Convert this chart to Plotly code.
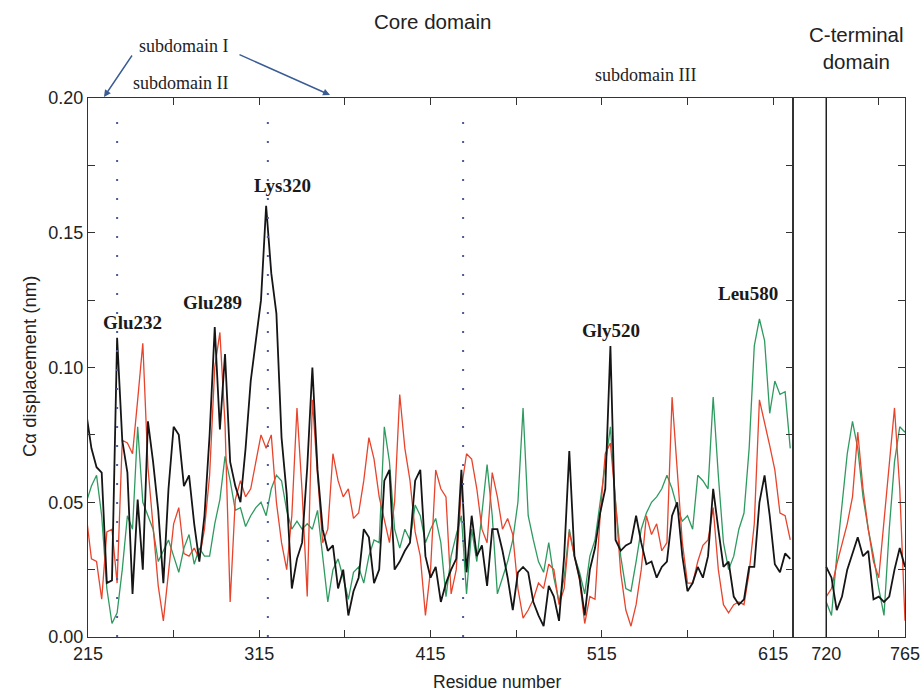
import plotly.graph_objects as go

# ---------------- data ----------------
residues_core = list(range(214, 626, 3))      # core domain residues (left panel)
residues_cterm = list(range(720, 766, 3))     # C-terminal residues (right panel)

black_core = [
    0.083, 0.070, 0.063, 0.061, 0.020, 0.021, 0.111, 0.073, 0.061, 0.016,
    0.051, 0.025, 0.080, 0.065, 0.047, 0.020, 0.055, 0.078, 0.075, 0.056,
    0.060, 0.042, 0.028, 0.045, 0.075, 0.115, 0.077, 0.105, 0.065, 0.056,
    0.050, 0.070, 0.095, 0.110, 0.125, 0.160, 0.135, 0.120, 0.074, 0.053,
    0.018, 0.029, 0.035, 0.063, 0.100, 0.062, 0.040, 0.032, 0.034, 0.018,
    0.025, 0.008, 0.017, 0.022, 0.040, 0.037, 0.020, 0.025, 0.058, 0.062,
    0.025, 0.028, 0.032, 0.035, 0.058, 0.062, 0.030, 0.022, 0.026, 0.013,
    0.020, 0.025, 0.029, 0.062, 0.024, 0.045, 0.030, 0.034, 0.019, 0.040,
    0.040, 0.032, 0.022, 0.010, 0.024, 0.026, 0.024, 0.013, 0.008, 0.004,
    0.019, 0.015, 0.006, 0.030, 0.069, 0.030, 0.022, 0.008, 0.025, 0.033,
    0.046, 0.055, 0.108, 0.036, 0.032, 0.034, 0.035, 0.045, 0.035, 0.027,
    0.028, 0.022, 0.026, 0.028, 0.045, 0.050, 0.030, 0.017, 0.020, 0.026,
    0.022, 0.030, 0.055, 0.040, 0.026, 0.028, 0.015, 0.012, 0.014, 0.026,
    0.026, 0.050, 0.060, 0.045, 0.027, 0.024, 0.031, 0.029,
]
red_core = [
    0.045, 0.029, 0.028, 0.014, 0.039, 0.040, 0.020, 0.073, 0.072, 0.068,
    0.088, 0.109, 0.063, 0.042, 0.019, 0.006, 0.025, 0.042, 0.048, 0.031,
    0.030, 0.033, 0.029, 0.040, 0.060, 0.100, 0.113, 0.079, 0.013, 0.051,
    0.058, 0.052, 0.055, 0.065, 0.075, 0.070, 0.075, 0.050, 0.035, 0.025,
    0.045, 0.085, 0.054, 0.015, 0.088, 0.060, 0.035, 0.040, 0.068, 0.058,
    0.052, 0.055, 0.044, 0.046, 0.058, 0.074, 0.066, 0.052, 0.043, 0.035,
    0.050, 0.090, 0.070, 0.058, 0.039, 0.030, 0.008, 0.025, 0.062, 0.055,
    0.052, 0.016, 0.025, 0.055, 0.068, 0.066, 0.055, 0.040, 0.035, 0.061,
    0.052, 0.040, 0.044, 0.038, 0.018, 0.007, 0.010, 0.014, 0.020, 0.018,
    0.027, 0.025, 0.012, 0.018, 0.039, 0.030, 0.021, 0.005, 0.015, 0.014,
    0.045, 0.068, 0.072, 0.050, 0.024, 0.010, 0.004, 0.012, 0.025, 0.045,
    0.038, 0.042, 0.032, 0.035, 0.089, 0.062, 0.035, 0.020, 0.020, 0.028,
    0.034, 0.036, 0.048, 0.025, 0.012, 0.009, 0.012, 0.013, 0.012, 0.024,
    0.042, 0.088, 0.080, 0.071, 0.062, 0.046, 0.045, 0.036,
]
green_core = [
    0.050, 0.056, 0.060, 0.045, 0.018, 0.005, 0.009, 0.025, 0.045, 0.040,
    0.078, 0.050, 0.045, 0.040, 0.028, 0.032, 0.036, 0.030, 0.024, 0.033,
    0.038, 0.027, 0.033, 0.030, 0.030, 0.042, 0.051, 0.067, 0.058, 0.047,
    0.048, 0.041, 0.045, 0.048, 0.050, 0.045, 0.055, 0.060, 0.058, 0.047,
    0.040, 0.043, 0.040, 0.042, 0.040, 0.047, 0.030, 0.013, 0.025, 0.029,
    0.022, 0.014, 0.024, 0.026, 0.020, 0.030, 0.036, 0.035, 0.078, 0.065,
    0.040, 0.033, 0.040, 0.036, 0.049, 0.045, 0.035, 0.040, 0.044, 0.035,
    0.015, 0.030, 0.038, 0.045, 0.016, 0.040, 0.028, 0.045, 0.064, 0.045,
    0.016, 0.022, 0.028, 0.036, 0.050, 0.085, 0.045, 0.036, 0.028, 0.024,
    0.035, 0.022, 0.013, 0.022, 0.040, 0.030, 0.024, 0.016, 0.030, 0.036,
    0.050, 0.062, 0.078, 0.050, 0.030, 0.018, 0.017, 0.028, 0.040, 0.046,
    0.050, 0.052, 0.055, 0.060, 0.055, 0.048, 0.043, 0.045, 0.040, 0.060,
    0.058, 0.055, 0.089, 0.060, 0.035, 0.025, 0.030, 0.040, 0.046, 0.070,
    0.108, 0.118, 0.110, 0.083, 0.095, 0.090, 0.091, 0.070,
]
black_cterm = [0.026, 0.022, 0.010, 0.015, 0.025, 0.031, 0.037, 0.030,
               0.032, 0.014, 0.015, 0.013, 0.015, 0.025, 0.033, 0.026]
red_cterm = [0.015, 0.018, 0.027, 0.035, 0.042, 0.052, 0.076, 0.055,
             0.040, 0.028, 0.022, 0.043, 0.065, 0.085, 0.055, 0.006]
green_cterm = [0.013, 0.008, 0.030, 0.050, 0.068, 0.080, 0.070, 0.052,
               0.040, 0.030, 0.018, 0.008, 0.040, 0.065, 0.078, 0.076]

core_ticks = [215, 265, 315, 365, 415, 465, 515, 565, 615]
core_ticktext = ["215", "", "315", "", "415", "", "515", "", "615"]
cterm_ticks = [720, 750, 765]
cterm_ticktext = ["720", "", "765"]
y_ticks = [0.0, 0.025, 0.05, 0.075, 0.10, 0.125, 0.15, 0.175, 0.20]
y_ticktext = ["0.00", "", "0.05", "", "0.10", "", "0.15", "", "0.20"]
marked_residues = [232, 320, 434]

residue_labels = ["Glu232", "Glu289", "Lys320", "Gly520", "Leu580"]

# ---------------- layout helpers ----------------
W, H = 920, 696
L, R, T, B = 88, 15, 98, 59
PW, PH = W - L - R, H - T - B


def px(x):
    return (x - L) / PW


def py(y):
    return (H - B - y) / PH


split = px(793)
axcol = "#333333"
sans = "Liberation Sans, Arial, sans-serif"
serif = "Liberation Serif, Times New Roman, serif"
tickfont = dict(family=sans, size=18, color="#222222")

fig = go.Figure()
series = [
    ("#2f9a60", 1.3, green_core, green_cterm),
    ("#e8442c", 1.3, red_core, red_cterm),
    ("#151515", 1.8, black_core, black_cterm),
]
for col, wid, core, cterm in series:
    fig.add_trace(go.Scatter(x=residues_core, y=core, mode="lines",
                             line=dict(color=col, width=wid),
                             xaxis="x", yaxis="y", showlegend=False,
                             hoverinfo="skip"))
    fig.add_trace(go.Scatter(x=residues_cterm, y=cterm, mode="lines",
                             line=dict(color=col, width=wid),
                             xaxis="x2", yaxis="y2", showlegend=False,
                             hoverinfo="skip"))

common_x = dict(ticks="inside", ticklen=7, tickwidth=1, tickcolor=axcol,
                showline=True, linecolor=axcol, linewidth=1.4,
                mirror="ticks", showgrid=False, zeroline=False,
                tickfont=tickfont, automargin=False,
                ticklabeloverflow="allow")

fig.update_layout(
    width=W, height=H, autosize=False,
    margin=dict(l=L, r=R, t=T, b=B),
    plot_bgcolor="white", paper_bgcolor="white",
    showlegend=False,
    xaxis=dict(domain=[0, split], range=[215, 626.6], anchor="y",
               tickvals=core_ticks, ticktext=core_ticktext, **common_x),
    xaxis2=dict(domain=[split, 1], range=[701, 765], anchor="y2",
                tickvals=cterm_ticks, ticktext=cterm_ticktext, **common_x),
    yaxis=dict(domain=[0, 1], range=[0, 0.2], anchor="x",
               tickvals=y_ticks, ticktext=y_ticktext,
               ticks="inside", ticklen=7, tickwidth=1, tickcolor=axcol,
               showline=True, linecolor=axcol, linewidth=1.4,
               mirror="ticks", showgrid=False, zeroline=False,
               tickfont=tickfont, automargin=False,
               ticklabeloverflow="allow"),
    yaxis2=dict(domain=[0, 1], range=[0, 0.2], anchor="x2", matches="y",
                side="right", tickvals=y_ticks, showticklabels=False,
                ticks="inside", ticklen=7, tickwidth=1, tickcolor=axcol,
                showline=True, linecolor=axcol, linewidth=1.4,
                mirror=True, showgrid=False, zeroline=False,
                automargin=False),
)

# dotted subdomain boundaries
for r in marked_residues:
    fig.add_shape(type="line", xref="x", yref="y", x0=r, x1=r, y0=0, y1=0.196,
                  line=dict(color="#4a5a9a", width=2, dash="2px,17px"))
# C-terminal boundary
fig.add_shape(type="line", xref="x2", yref="y2", x0=720, x1=720, y0=0, y1=0.2,
              line=dict(color="#222222", width=1.5))

ann = []
# headers
ann.append(dict(text="Core domain", x=px(432), y=py(22),
                font=dict(family=sans, size=20.5, color="#222")))
ann.append(dict(text="C-terminal<br>domain", x=px(856), y=py(48),
                font=dict(family=sans, size=20.5, color="#222")))
ann.append(dict(text="subdomain I", x=px(184), y=py(46),
                font=dict(family=serif, size=18, color="#222")))
ann.append(dict(text="subdomain II", x=px(180), y=py(83),
                font=dict(family=serif, size=18, color="#222")))
ann.append(dict(text="subdomain III", x=px(645), y=py(75),
                font=dict(family=serif, size=18, color="#222")))
# residue labels
label_pos = [(132, 322), (212, 302), (282, 185), (611, 330), (748, 293)]
for txt, (lx, ly) in zip(residue_labels, label_pos):
    ann.append(dict(text="<b>" + txt + "</b>", x=px(lx), y=py(ly),
                    font=dict(family=serif, size=19, color="#1a1a1a")))
# axis titles
ann.append(dict(text="Residue number", x=px(497), y=py(682),
                font=dict(family=sans, size=17.5, color="#222")))
ann.append(dict(text="Cα displacement (nm)", x=px(29), y=py(367),
                textangle=-90, font=dict(family=sans, size=18.5, color="#222")))
for a in ann:
    a.update(xref="paper", yref="paper", showarrow=False,
             xanchor="center", yanchor="middle")

# arrows from "subdomain I"
arrows = [((104, 97), (133, 54)), ((330, 95), (238, 54))]
for (hx, hy), (tx, ty) in arrows:
    ann.append(dict(text="", x=px(hx), y=py(hy), xref="paper", yref="paper",
                    ax=tx - hx, ay=ty - hy, showarrow=True, arrowhead=2,
                    arrowsize=1, arrowwidth=1.4, arrowcolor="#3a5c94"))

fig.update_layout(annotations=ann)
fig.write_html("out.html",
               config={"displayModeBar": False, "responsive": False},
               post_script="document.body.style.margin='0px';"
                           "document.body.style.padding='0px';"
                           "document.body.style.overflow='hidden';"
                           "document.documentElement.style.overflow='hidden';")
